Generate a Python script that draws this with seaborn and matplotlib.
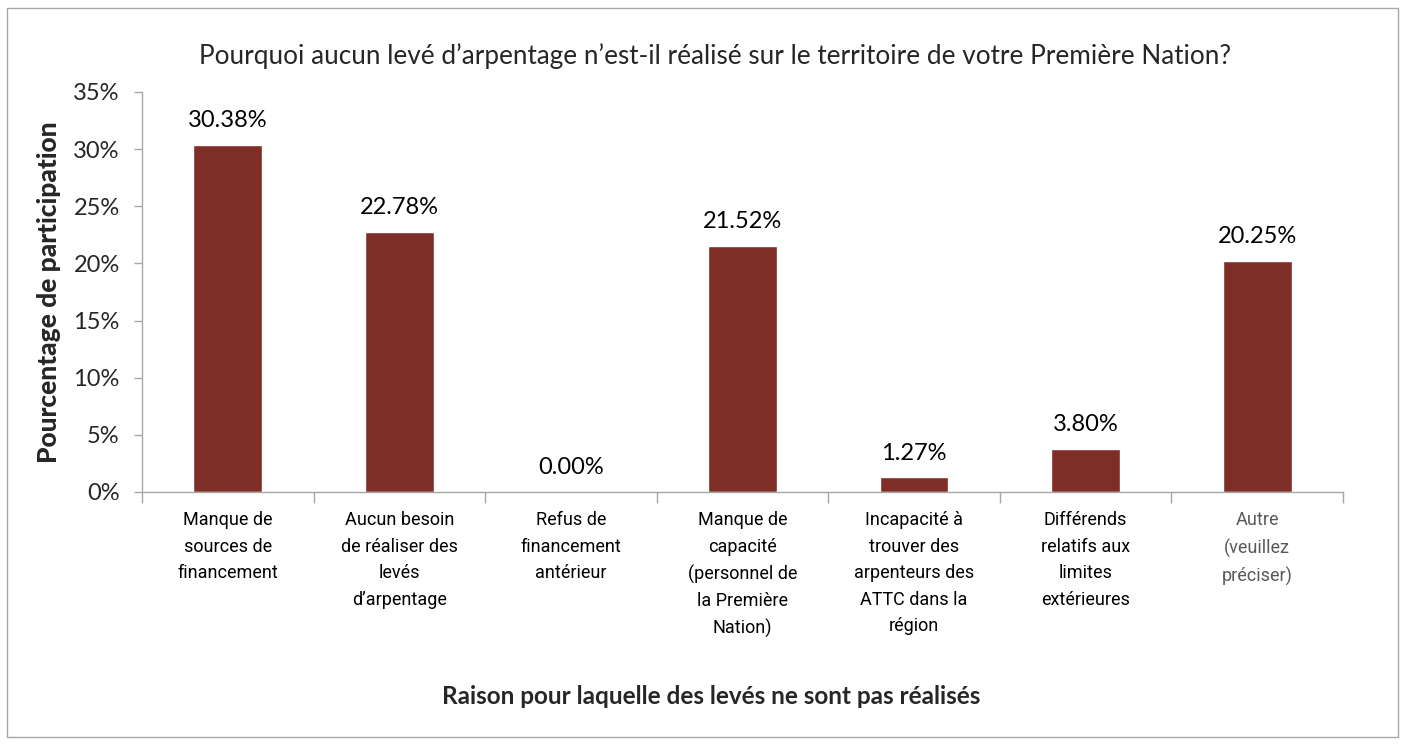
import matplotlib
matplotlib.use("Agg")
import matplotlib.pyplot as plt
import seaborn as sns
import pandas as pd
from matplotlib.patches import Rectangle

categories = [
    "Manque de\nsources de\nfinancement",
    "Aucun besoin\nde réaliser des\nlevés\nd’arpentage",
    "Refus de\nfinancement\nantérieur",
    "Manque de\ncapacité\n(personnel de\nla Première\nNation)",
    "Incapacité à\ntrouver des\narpenteurs des\nATTC dans la\nrégion",
    "Différends\nrelatifs aux\nlimites\nextérieures",
    "Autre\n(veuillez\npréciser)",
]
values = [30.38, 22.78, 0.00, 21.52, 1.27, 3.80, 20.25]
y_ticks = [0, 5, 10, 15, 20, 25, 30, 35]

title = "Pourquoi aucun levé d’arpentage n’est-il réalisé sur le territoire de votre Première Nation?"
xlabel = "Raison pour laquelle des levés ne sont pas réalisés"
ylabel = "Pourcentage de participation"

sns.set_theme(style="white")
plt.rcParams["font.family"] = ["Lato", "DejaVu Sans"]

df = pd.DataFrame({"cat": categories, "val": values})

fig = plt.figure(figsize=(14.06, 7.44), dpi=100)
ax = fig.add_axes([142/1406, 1-492/744, (1343-142)/1406, 400/744])

sns.barplot(data=df, x="cat", y="val", color="#7F2D27", saturation=1, width=0.4, ax=ax)

ax.set_ylim(0, 35)
ax.set_xlim(-0.5, len(categories) - 0.5)
ax.set_yticks(y_ticks)
ax.set_yticklabels([f"{t}%" for t in y_ticks], fontsize=17)
ax.tick_params(axis="y", length=6, color="#A6A6A6", width=1, pad=10, left=True)

# x ticks at category boundaries
ax.set_xticks([i - 0.5 for i in range(len(categories) + 1)], minor=True)
ax.tick_params(axis="x", which="minor", length=8, color="#A6A6A6", width=1, bottom=True, direction="out")
ax.set_xticks(range(len(categories)))
ax.set_xticklabels(categories, fontsize=13, family=["Roboto", "DejaVu Sans"], linespacing=1.6, va="top")
ax.tick_params(axis="x", which="major", length=0, pad=14)
for i, lbl in enumerate(ax.get_xticklabels()):
    lbl.set_color("#595959" if i == len(categories) - 1 else "black")

for s in ["top", "right"]:
    ax.spines[s].set_visible(False)
for s in ["left", "bottom"]:
    ax.spines[s].set_color("#A6A6A6")
    ax.spines[s].set_linewidth(1)

for i, v in enumerate(values):
    ax.text(i, v + 1.2, f"{v:.2f}%", ha="center", va="bottom", fontsize=17, color="black")

ax.set_xlabel("")
ax.set_ylabel(ylabel, fontsize=19, fontweight=900, labelpad=9)

fig.text(715/1406, 1-56/744, title, ha="center", va="center", fontsize=18.8)
fig.text(711/1406, 1-697/744, xlabel, ha="center", va="center", fontsize=17.5, fontweight="bold")

fig.patches.append(Rectangle((7/1406, 7/744), 1391/1406, 729/744, transform=fig.transFigure,
                             fill=False, edgecolor="#A6A6A6", linewidth=1))

fig.savefig("out.png", dpi=100, facecolor="white")
